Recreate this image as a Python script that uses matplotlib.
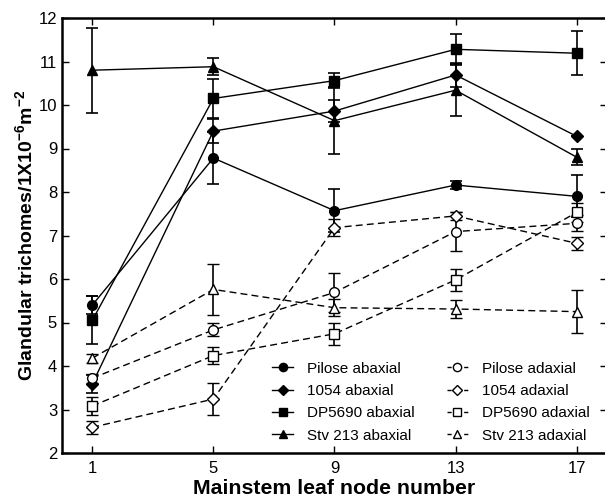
import numpy as np
import matplotlib
matplotlib.use("Agg")
import matplotlib.pyplot as plt
from matplotlib.lines import Line2D

plt.rcParams['font.family'] = ['Liberation Sans', 'DejaVu Sans']
plt.rcParams['mathtext.default'] = 'regular'

nodes = [1, 5, 9, 13, 17]

# abaxial (solid, filled markers)
pilose_ab = [5.40, 8.78, 7.57, 8.16, 7.90]
pilose_ab_err = [0.20, 0.60, 0.50, 0.10, 0.48]
s1054_ab = [3.59, 9.40, 9.86, 10.69, 9.28]
s1054_ab_err = [0.20, 0.27, 0.25, 0.27, 0.0]
dp_ab = [5.05, 10.15, 10.56, 11.28, 11.19]
dp_ab_err = [0.55, 0.45, 0.18, 0.35, 0.50]
stv_ab = [10.80, 10.88, 9.64, 10.34, 8.80]
stv_ab_err = [0.98, 0.20, 0.77, 0.60, 0.18]

# adaxial (dashed, open markers)
pilose_ad = [3.72, 4.83, 5.69, 7.09, 7.28]
pilose_ad_err = [0.10, 0.15, 0.44, 0.45, 0.18]
s1054_ad = [2.59, 3.24, 7.18, 7.45, 6.82]
s1054_ad_err = [0.15, 0.36, 0.20, 0.10, 0.15]
dp_ad = [3.08, 4.24, 4.74, 5.98, 7.53]
dp_ad_err = [0.20, 0.20, 0.25, 0.25, 0.22]
stv_ad = [4.18, 5.76, 5.34, 5.31, 5.25]
stv_ad_err = [0.10, 0.58, 0.20, 0.20, 0.50]

labels_ab = ["Pilose abaxial", "1054 abaxial", "DP5690 abaxial", "Stv 213 abaxial"]
labels_ad = ["Pilose adaxial", "1054 adaxial", "DP5690 adaxial", "Stv 213 adaxial"]
markers = ["o", "D", "s", "^"]
msizes = [7, 6.5, 7, 7.5]
dash = (0, (5, 3))

fig = plt.figure(figsize=(6.05, 5.01), dpi=100)
ax = fig.add_axes([62/605, 48/501, 545/605, 435/501])

ab_vals = [pilose_ab, s1054_ab, dp_ab, stv_ab]
ab_errs = [pilose_ab_err, s1054_ab_err, dp_ab_err, stv_ab_err]
ad_vals = [pilose_ad, s1054_ad, dp_ad, stv_ad]
ad_errs = [pilose_ad_err, s1054_ad_err, dp_ad_err, stv_ad_err]

h_ab, h_ad = [], []
for vals, errs, lab, mk, ms in zip(ab_vals, ab_errs, labels_ab, markers, msizes):
    ax.errorbar(nodes, vals, yerr=errs, color='black', marker=mk, ms=ms,
                mfc='black', mec='black', lw=1, elinewidth=1.2, capsize=4,
                capthick=1.2)
    h_ab.append(Line2D([], [], color='black', marker=mk, ms=ms*0.85,
                       mfc='black', lw=1, label=lab))

for vals, errs, lab, mk, ms in zip(ad_vals, ad_errs, labels_ad, markers, msizes):
    ax.errorbar(nodes, vals, yerr=errs, color='black', marker=mk, ms=ms,
                mfc='white', mec='black', mew=1, lw=1, ls=dash,
                elinewidth=1.2, capsize=4, capthick=1.2)
    h_ad.append(Line2D([], [], color='black', marker=mk, ms=ms*0.85,
                       mfc='white', lw=1, ls=(0, (3, 3)), label=lab))

ax.set_xlim(0, 18)
ax.set_ylim(2, 12)
ax.set_xticks(nodes)
ax.set_yticks(range(2, 13))
ax.tick_params(direction='in', top=True, right=True, length=5, width=1,
               labelsize=12)
ax.tick_params(axis='x', pad=6)
for sp in ax.spines.values():
    sp.set_linewidth(1.8)

ax.set_xlabel("Mainstem leaf node number", fontsize=15.3, fontweight='bold',
              labelpad=2)
ax.set_ylabel("Glandular trichomes/1X10$^{-6}$m$^{-2}$", fontsize=14,
              fontweight='bold', labelpad=2)

ax.legend(h_ab + h_ad, labels_ab + labels_ad, ncol=2, frameon=False,
          loc='lower left', bbox_to_anchor=(0.36, -0.008), fontsize=11,
          handlelength=1.4, handletextpad=0.9, columnspacing=2.1,
          labelspacing=0.55)

fig.savefig("out.png", dpi=100)
